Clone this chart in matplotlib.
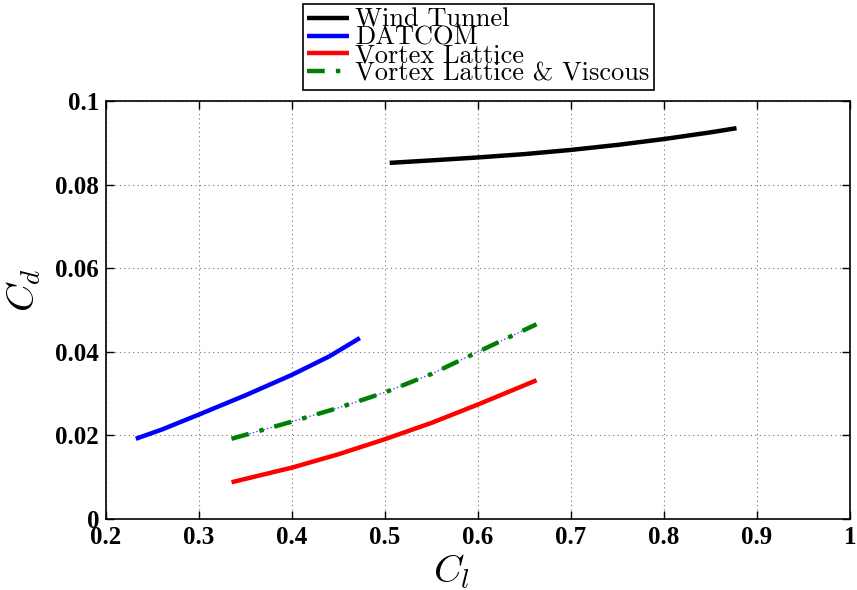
import matplotlib
matplotlib.use("Agg")
import matplotlib.pyplot as plt

# Values
wt_cl = [0.505, 0.55, 0.60, 0.65, 0.70, 0.75, 0.80, 0.85, 0.878]
wt_cd = [0.0852, 0.0858, 0.0865, 0.0873, 0.0883, 0.0895, 0.0909, 0.0925, 0.0935]

datcom_cl = [0.232, 0.26, 0.30, 0.35, 0.40, 0.44, 0.473]
datcom_cd = [0.0192, 0.0214, 0.0250, 0.0296, 0.0345, 0.0389, 0.0433]

vl_cl = [0.335, 0.40, 0.45, 0.50, 0.55, 0.60, 0.663]
vl_cd = [0.0088, 0.0123, 0.0155, 0.0191, 0.0230, 0.0274, 0.0332]

vlv_cl = [0.335, 0.40, 0.45, 0.50, 0.55, 0.60, 0.663]
vlv_cd = [0.0192, 0.0233, 0.0266, 0.0303, 0.0347, 0.0400, 0.0466]

labels = ["Wind Tunnel", "DATCOM", "Vortex Lattice", "Vortex Lattice & Viscous"]

plt.rcParams["mathtext.fontset"] = "cm"

fig = plt.figure(figsize=(8.57, 5.9), dpi=100)
ax = fig.add_axes([0.1237, 0.1203, 0.8681, 0.7085])

l1, = ax.plot(wt_cl, wt_cd, color="black", lw=3.2, solid_capstyle="butt")
l2, = ax.plot(datcom_cl, datcom_cd, color="blue", lw=3.2, solid_capstyle="butt")
l3, = ax.plot(vl_cl, vl_cd, color="red", lw=3.2, solid_capstyle="butt")
ax.plot(vlv_cl, vlv_cd, color="blue", lw=1, ls=":", alpha=0.7)
l4, = ax.plot(vlv_cl, vlv_cd, color="green", lw=3.2, ls=(0, (4, 2.5, 1, 2.5)))

ax.set_xlim(0.2, 1.0)
ax.set_ylim(0, 0.1)
ax.set_xticks([0.2, 0.3, 0.4, 0.5, 0.6, 0.7, 0.8, 0.9, 1.0])
ax.set_xticklabels(["0.2", "0.3", "0.4", "0.5", "0.6", "0.7", "0.8", "0.9", "1"])
ax.set_yticks([0, 0.02, 0.04, 0.06, 0.08, 0.1])
ax.set_yticklabels(["0", "0.02", "0.04", "0.06", "0.08", "0.1"])
ax.grid(True, ls=(0, (1, 3)), color="0.45", lw=0.8)
ax.tick_params(direction="in", top=True, right=True, length=6, width=1, pad=5)
for lab in ax.get_xticklabels() + ax.get_yticklabels():
    lab.set_fontfamily("Liberation Serif")
    lab.set_fontweight("bold")
    lab.set_fontsize(18)
for sp in ax.spines.values():
    sp.set_linewidth(1.2)

ax.set_xlabel(r"$C_l$", fontsize=28)
ax.set_ylabel(r"$C_d$", fontsize=28)
ax.xaxis.set_label_coords(0.465, -0.08)
ax.yaxis.set_label_coords(-0.085, 0.548)

leg = fig.legend(handles=[l1, l2, l3, l4], labels=labels,
                 loc="upper center", bbox_to_anchor=(0.558, 0.993),
                 prop={"family": "cmr10", "size": 19}, labelspacing=-0.22,
                 handlelength=1.6, handletextpad=0.25, borderpad=0.15,
                 borderaxespad=0, fancybox=False, edgecolor="black", framealpha=1)
leg.get_frame().set_linewidth(1.2)

fig.savefig("out.png", dpi=100)
